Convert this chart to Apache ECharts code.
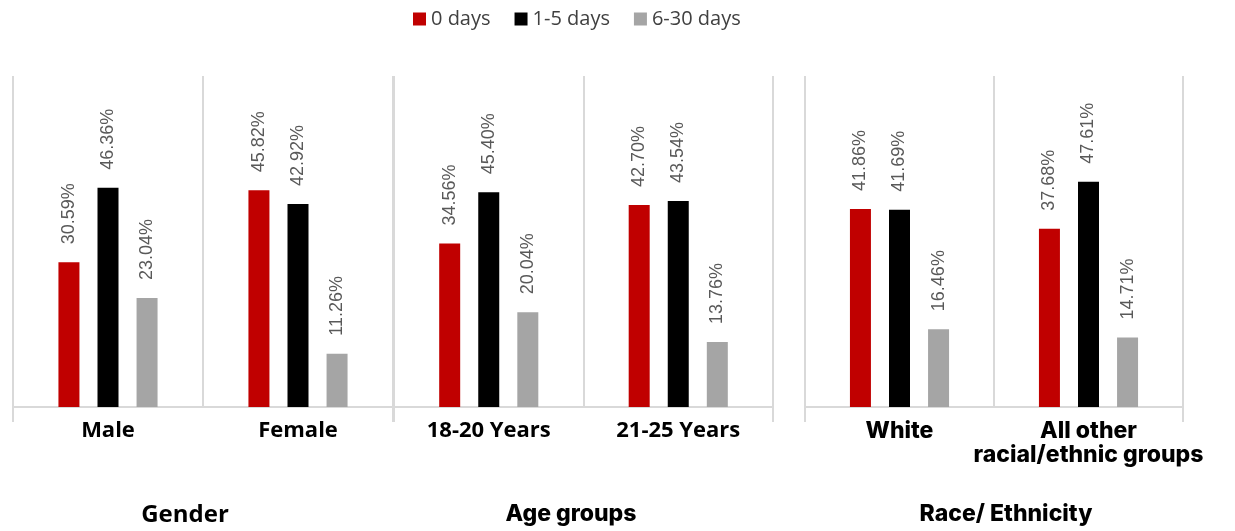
<!DOCTYPE html>
<html><head><meta charset="utf-8">
<script src="https://cdn.jsdelivr.net/npm/echarts@6/dist/echarts.min.js"></script>
<style>html,body{margin:0;padding:0;background:#fff}#c{width:1235px;height:531px}</style>
</head><body><div id="c"></div>
<script>
const seriesNames = ['0 days', '1-5 days', '6-30 days'];
const colors = ['#c00000', '#000000', '#a5a5a5'];
const groupTitles = ['Gender', 'Age groups', 'Race/ Ethnicity'];
const genderCats = ['Male', 'Female'];
const ageCats = ['18-20 Years', '21-25 Years'];
const raceCats = ['White', 'All other\nracial/ethnic groups'];
const zeroDays = [[30.59, 45.82], [34.56, 42.70], [41.86, 37.68]];
const oneToFive = [[46.36, 42.92], [45.40, 43.54], [41.69, 47.61]];
const sixToThirty = [[23.04, 11.26], [20.04, 13.76], [16.46, 14.71]];

const cats = [genderCats, ageCats, raceCats];
const values = [zeroDays, oneToFive, sixToThirty];
const grids = [
  {left: 13, width: 380, top: 76, height: 331},
  {left: 394, width: 379, top: 76, height: 331},
  {left: 805, width: 378, top: 76, height: 331}
];
const labelFonts = [
  {fontFamily: 'Open Sans', fontWeight: 'bold', fontSize: 22, lineHeight: 24},
  {fontFamily: 'Open Sans', fontWeight: 'bold', fontSize: 22, lineHeight: 24},
  {fontFamily: 'Inter', fontWeight: 800, fontSize: 23, lineHeight: 24}
];
const titleLefts = [180, 566, 1001];
const titleFonts = [
  {fontFamily: 'Open Sans', fontWeight: 'bold', fontSize: 24},
  {fontFamily: 'Inter', fontWeight: 800, fontSize: 23},
  {fontFamily: 'Inter', fontWeight: 800, fontSize: 23}
];

const xAxes = cats.map((c, i) => ({
  type: 'category', gridIndex: i, data: c,
  axisLine: {show: true, lineStyle: {color: '#d9d9d9', width: 2}},
  axisTick: {show: true, length: 15, interval: idx => idx === 0, lineStyle: {color: '#d9d9d9', width: 2}},
  splitLine: {show: true, interval: 0, lineStyle: {color: '#d9d9d9', width: 2}},
  axisLabel: Object.assign({color: '#000', margin: 12, interval: 0}, labelFonts[i])
}));
const yAxes = cats.map((c, i) => ({
  type: 'value', gridIndex: i, min: 0, max: 70, interval: 10,
  show: false, splitLine: {show: false}
}));
const series = [];
for (let g = 0; g < 3; g++) {
  for (let s = 0; s < 3; s++) {
    series.push({
      type: 'bar', name: seriesNames[s], xAxisIndex: g, yAxisIndex: g,
      data: values[s][g], barWidth: 21, barGap: '86%',
      itemStyle: {color: colors[s]},
      label: {
        show: true, position: 'top', rotate: 90, align: 'left', verticalAlign: 'middle',
        distance: 18, color: '#595959', fontFamily: 'Liberation Sans', fontSize: 18,
        formatter: p => p.value.toFixed(2) + '%'
      }
    });
  }
}
const titles = groupTitles.map((t, i) => ({
  text: t, left: titleLefts[i], top: 498, textAlign: 'center',
  textStyle: Object.assign({color: '#000'}, titleFonts[i])
}));

const chart = echarts.init(document.getElementById('c'), null, {renderer: 'canvas'});
chart.setOption({
  animation: false,
  title: titles,
  legend: {
    data: seriesNames, top: 4, left: 408, icon: 'rect', itemWidth: 13, itemHeight: 13, itemGap: 24,
    textStyle: {fontFamily: 'Open Sans', fontSize: 20, color: '#404040'}
  },
  grid: grids,
  xAxis: xAxes,
  yAxis: yAxes,
  series: series
});
</script></body></html>
